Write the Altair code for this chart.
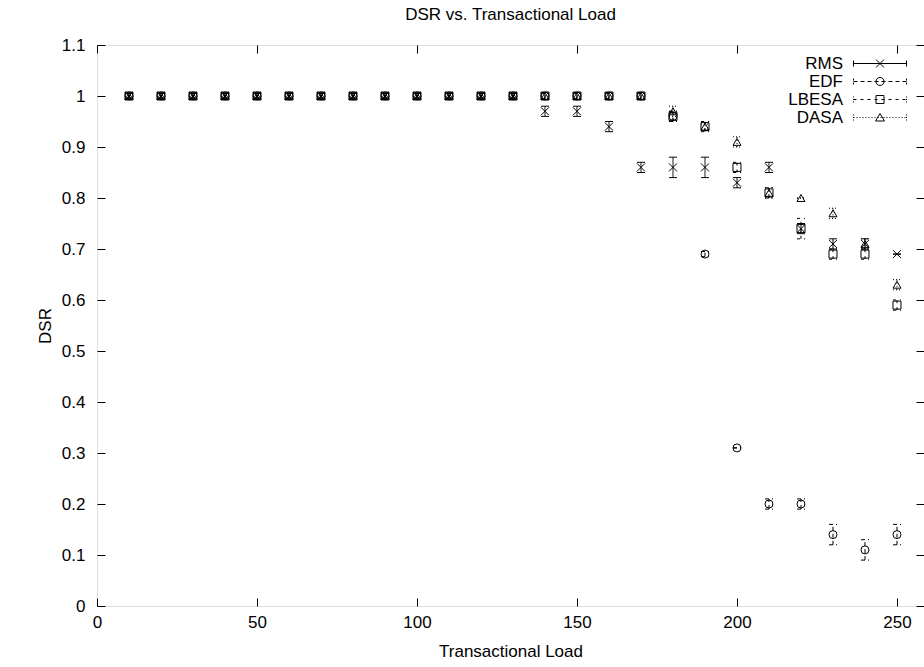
import altair as alt
import pandas as pd

# Transactional load levels (x) and measured DSR per scheduler, with error half-widths
loads = [10, 20, 30, 40, 50, 60, 70, 80, 90, 100, 110, 120, 130,
         140, 150, 160, 170, 180, 190, 200, 210, 220, 230, 240, 250]

rms_dsr = [1.0, 1.0, 1.0, 1.0, 1.0, 1.0, 1.0, 1.0, 1.0, 1.0, 1.0, 1.0, 1.0,
           0.97, 0.97, 0.94, 0.86, 0.86, 0.86, 0.83, 0.86, 0.74, 0.71, 0.71, 0.69]
rms_err = [0.005, 0.005, 0.005, 0.005, 0.005, 0.005, 0.005, 0.005, 0.005, 0.005, 0.005, 0.005, 0.005,
           0.01, 0.01, 0.01, 0.01, 0.02, 0.02, 0.01, 0.01, 0.01, 0.01, 0.01, 0.0]

edf_dsr = [1.0, 1.0, 1.0, 1.0, 1.0, 1.0, 1.0, 1.0, 1.0, 1.0, 1.0, 1.0, 1.0,
           1.0, 1.0, 1.0, 1.0, 0.96, 0.69, 0.31, 0.20, 0.20, 0.14, 0.11, 0.14]
edf_err = [0.005, 0.005, 0.005, 0.005, 0.005, 0.005, 0.005, 0.005, 0.005, 0.005, 0.005, 0.005, 0.005,
           0.005, 0.005, 0.005, 0.005, 0.01, 0.005, 0.0, 0.01, 0.01, 0.02, 0.02, 0.02]

lbesa_dsr = [1.0, 1.0, 1.0, 1.0, 1.0, 1.0, 1.0, 1.0, 1.0, 1.0, 1.0, 1.0, 1.0,
             1.0, 1.0, 1.0, 1.0, 0.96, 0.94, 0.86, 0.81, 0.74, 0.69, 0.69, 0.59]
lbesa_err = [0.005, 0.005, 0.005, 0.005, 0.005, 0.005, 0.005, 0.005, 0.005, 0.005, 0.005, 0.005, 0.005,
             0.005, 0.005, 0.005, 0.005, 0.01, 0.01, 0.01, 0.01, 0.02, 0.01, 0.01, 0.01]

dasa_dsr = [1.0, 1.0, 1.0, 1.0, 1.0, 1.0, 1.0, 1.0, 1.0, 1.0, 1.0, 1.0, 1.0,
            1.0, 1.0, 1.0, 1.0, 0.97, 0.94, 0.91, 0.81, 0.80, 0.77, 0.71, 0.63]
dasa_err = [0.005, 0.005, 0.005, 0.005, 0.005, 0.005, 0.005, 0.005, 0.005, 0.005, 0.005, 0.005, 0.005,
            0.005, 0.005, 0.005, 0.005, 0.01, 0.005, 0.01, 0.01, 0.0, 0.01, 0.01, 0.01]

series_names = ["RMS", "EDF", "LBESA", "DASA"]
x_ticks = [0, 50, 100, 150, 200, 250]
y_ticks = [0, 0.1, 0.2, 0.3, 0.4, 0.5, 0.6, 0.7, 0.8, 0.9, 1.0, 1.1]

rows = []
for name, vals, errs in zip(series_names,
                            [rms_dsr, edf_dsr, lbesa_dsr, dasa_dsr],
                            [rms_err, edf_err, lbesa_err, dasa_err]):
    for x, y, e in zip(loads, vals, errs):
        rows.append({"series": name, "load": x, "dsr": y, "lo": y - e, "hi": y + e})
df = pd.DataFrame(rows)

W, H = 827, 561
FONT = "Liberation Sans"

x_scale = alt.Scale(domain=[0, 258.44], nice=False)
y_scale = alt.Scale(domain=[0, 1.1], nice=False)

# gnuplot-like line styles: solid, dashed, dash-dot, dotted
dash_scale = alt.Scale(domain=series_names, range=[[1, 0], [4, 3], [3, 4], [1, 2]])

# point markers: x-cross, circle, square, triangle
marker_scale = alt.Scale(
    domain=series_names,
    range=["M-1,-1L1,1M-1,1L1,-1", "circle", "square", "triangle-up"],
)


def dashed(x0, x1, on, off):
    """Horizontal dashed segment as an SVG path (units are pixels)."""
    out, x = [], x0
    while x < x1:
        out.append(f"M{x:g},0H{min(x + on, x1):g}")
        x += on + off
    return "".join(out)


def cap(x, pattern):
    """Short vertical end cap of a key sample."""
    if pattern is None:
        return f"M{x:g},-3V3"
    return "".join(f"M{x:g},{a:g}V{b:g}" for a, b in pattern)


# key samples: line with end caps and a marker in the middle
L0, L1, MC = 19, 72, 45.5
pad = "M-62,0"
key_paths = [
    pad + f"M{L0},0H{L1}" + cap(L0, None) + cap(L1, None)
    + f"M{MC-4},-4L{MC+4},4M{MC-4},4L{MC+4},-4",
    pad + dashed(L0, L1, 4, 3) + cap(L0, [(-3, -1), (1, 3)]) + cap(L1, [(-3, -1), (1, 3)])
    + f"M{MC+4},0A4 4 0 1 1 {MC-4},0A4 4 0 1 1 {MC+4},0",
    pad + dashed(L0, L1, 3, 4) + cap(L0, [(-3, -2), (-0.5, 0.5), (2, 3)])
    + cap(L1, [(-3, -2), (-0.5, 0.5), (2, 3)])
    + f"M{MC-4},-4H{MC+4}V4H{MC-4}Z",
    pad + dashed(L0, L1, 1, 2) + cap(L0, [(-3, -2), (-0.5, 0.5), (2, 3)])
    + cap(L1, [(-3, -2), (-0.5, 0.5), (2, 3)])
    + f"M{MC},-4L{MC+4.5},3.5H{MC-4.5}Z",
]
key_scale = alt.Scale(domain=series_names, range=key_paths)

axis_common = dict(grid=False, labelFont=FONT, titleFont=FONT, labelFlush=False)

x_main = alt.Axis(orient="bottom", values=x_ticks, ticks=False, domain=False,
                  labelFontSize=17, labelPadding=8, labelColor="black",
                  title="Transactional Load", titleFontSize=17, titleFontWeight="normal",
                  titlePadding=13, titleColor="black", **axis_common)
y_main = alt.Axis(orient="left", values=y_ticks, ticks=False, domain=False, format="~g",
                  labelFontSize=17, labelPadding=12, labelColor="black",
                  title="DSR", titleFontSize=17, titleFontWeight="normal",
                  titlePadding=7, titleColor="black", **axis_common)

# inward ticks on all four sides of the frame
tick_style = dict(labels=False, ticks=True, tickSize=8, tickColor="black", tickWidth=1,
                  domain=False, title=None, grid=False)
x_in_bottom = alt.Axis(orient="top", offset=-H, values=x_ticks, **tick_style)
x_in_top = alt.Axis(orient="bottom", offset=-H, values=x_ticks, **tick_style)
y_in_left = alt.Axis(orient="right", offset=-W, values=y_ticks, **tick_style)
y_in_right = alt.Axis(orient="left", offset=-W, values=y_ticks, **tick_style)

base = alt.Chart(df)

bars = base.mark_rule(color="black", strokeWidth=1).encode(
    x=alt.X("load:Q", scale=x_scale, axis=x_main),
    y=alt.Y("lo:Q", scale=y_scale, axis=y_main),
    y2="hi:Q",
    strokeDash=alt.StrokeDash("series:N", scale=dash_scale, legend=None),
)

cap_shape = "M-1,0H1"
caps_lo = base.mark_point(shape=cap_shape, size=64, filled=False, color="black",
                          strokeWidth=1, opacity=1).encode(
    x=alt.X("load:Q", scale=x_scale, axis=x_in_bottom),
    y=alt.Y("lo:Q", scale=y_scale, axis=y_in_left),
    strokeDash=alt.StrokeDash("series:N", scale=dash_scale, legend=None),
)
caps_hi = base.mark_point(shape=cap_shape, size=64, filled=False, color="black",
                          strokeWidth=1, opacity=1).encode(
    x=alt.X("load:Q", scale=x_scale, axis=x_in_top),
    y=alt.Y("hi:Q", scale=y_scale, axis=y_in_right),
    strokeDash=alt.StrokeDash("series:N", scale=dash_scale, legend=None),
)

markers = base.mark_point(filled=False, color="black", size=64, strokeWidth=1,
                          opacity=1).encode(
    x=alt.X("load:Q", scale=x_scale, axis=None),
    y=alt.Y("dsr:Q", scale=y_scale, axis=None),
    shape=alt.Shape("series:N", scale=marker_scale, legend=None),
)

# key layer: no marks of its own, only carries the legend
key = base.transform_filter("false").mark_point(
    filled=False, color="black", strokeWidth=1, opacity=1
).encode(
    x=alt.X("load:Q", scale=x_scale, axis=None),
    y=alt.Y("dsr:Q", scale=y_scale, axis=None),
    shape=alt.Shape(
        "series:N", scale=key_scale,
        legend=alt.Legend(title=None, orient="none", legendX=729, legendY=10,
                          labelFont=FONT, labelFontSize=17, labelColor="black",
                          labelAlign="right", labelOffset=0, labelLimit=300,
                          symbolSize=4, symbolStrokeWidth=1, symbolStrokeColor="black",
                          padding=0, rowPadding=0),
    ),
)

chart = (
    alt.layer(bars, caps_lo, caps_hi, markers, key)
    .resolve_axis(x="independent", y="independent")
    .resolve_scale(shape="independent")
    .properties(
        width=W, height=H,
        autosize=alt.AutoSizeParams(type="none"),
        padding={"left": 97, "top": 45, "right": 0, "bottom": 61},
        title=alt.Title("DSR vs. Transactional Load", font=FONT, fontSize=17,
                        fontWeight="normal", color="black", anchor="middle",
                        frame="group", offset=12),
    )
    .configure_view(stroke="black", strokeWidth=1)
    .configure(background="white")
)

chart.save("out.html", embed_options={"renderer": "svg", "actions": False})
